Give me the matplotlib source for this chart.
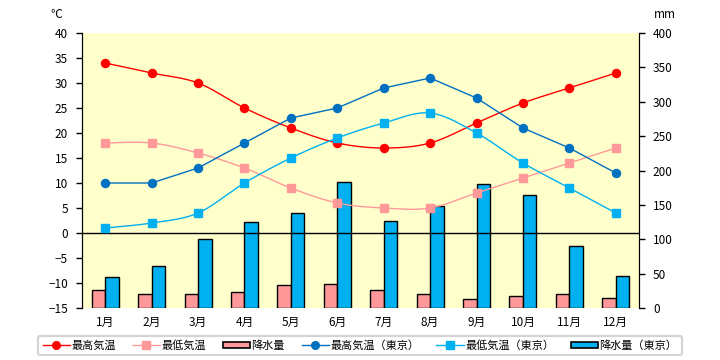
import numpy as np
import matplotlib
matplotlib.use("Agg")
import matplotlib.pyplot as plt
from matplotlib.patches import Patch
from matplotlib.lines import Line2D

plt.rcParams['font.family'] = ['Noto Sans CJK JP', 'DejaVu Sans']

months = ['1月', '2月', '3月', '4月', '5月', '6月', '7月', '8月', '9月', '10月', '11月', '12月']
max_temp = [34, 32, 30, 25, 21, 18, 17, 18, 22, 26, 29, 32]
min_temp = [18, 18, 16, 13, 9, 6, 5, 5, 8, 11, 14, 17]
precip = [26, 21, 20, 23, 33, 35, 26, 20, 13, 18, 20, 15]
max_tokyo = [10, 10, 13, 18, 23, 25, 29, 31, 27, 21, 17, 12]
min_tokyo = [1, 2, 4, 10, 15, 19, 22, 24, 20, 14, 9, 4]
precip_tokyo = [45, 61, 100, 125, 138, 184, 126, 148, 180, 164, 90, 46]
temp_ticks = list(range(-15, 41, 5))
precip_ticks = list(range(0, 401, 50))

RED = '#FF0000'
PINK = '#FF9999'
BLUE = '#0070C0'
CYAN = '#00B0F0'


def smooth(x, y, n=20):
    x = np.asarray(x, float)
    y = np.asarray(y, float)
    P = np.column_stack([x, y])
    out = []
    for i in range(len(P) - 1):
        p0 = P[i - 1] if i > 0 else P[i]
        p1 = P[i]
        p2 = P[i + 1]
        p3 = P[i + 2] if i + 2 < len(P) else P[i + 1]
        c1 = p1 + (p2 - p0) / 6.0
        c2 = p2 - (p3 - p1) / 6.0
        t = np.linspace(0, 1, n)[:, None]
        seg = ((1 - t) ** 3) * p1 + 3 * ((1 - t) ** 2) * t * c1 + 3 * (1 - t) * t ** 2 * c2 + t ** 3 * p2
        out.append(seg if i == 0 else seg[1:])
    s = np.vstack(out)
    return s[:, 0], s[:, 1]


fig = plt.figure(figsize=(7.2, 3.6), dpi=100)
axb = fig.add_axes([82 / 720, 1 - 308 / 360, (639 - 82) / 720, (308 - 33) / 360])
axt = axb.twinx()

x = np.arange(len(months))
w = 0.29
axb.set_facecolor('#FFFFCC')
axb.bar(x - w / 2, precip, width=w, color=PINK, edgecolor='black', linewidth=1.0, zorder=2)
axb.bar(x + w / 2, precip_tokyo, width=w, color=CYAN, edgecolor='black', linewidth=1.0, zorder=2)
axb.set_ylim(0, 400)
axb.set_yticks(precip_ticks)
axb.set_xlim(-0.5, len(months) - 0.5)
axb.yaxis.tick_right()
axb.yaxis.set_label_position('right')

axt.set_ylim(-15, 40)
axt.set_yticks(temp_ticks)
axt.yaxis.tick_left()
axt.axhline(0, color='black', linewidth=1.0, zorder=1)

ms_c = 5.8
ms_s = 5.3
sx, sy = smooth(x, max_temp)
axt.plot(sx, sy, color=RED, linewidth=1.0)
axt.plot(x, max_temp, 'o', color=RED, markersize=ms_c)
sx, sy = smooth(x, min_temp)
axt.plot(sx, sy, color=PINK, linewidth=1.0)
axt.plot(x, min_temp, 's', color=PINK, markersize=ms_s)
axt.plot(x, max_tokyo, '-o', color=BLUE, linewidth=1.0, markersize=ms_c)
sx, sy = smooth(x, min_tokyo)
axt.plot(sx, sy, color=CYAN, linewidth=1.0)
axt.plot(x, min_tokyo, 's', color=CYAN, markersize=ms_s)

for ax in (axb, axt):
    for s in ('top', 'bottom'):
        ax.spines[s].set_visible(False)
    ax.spines['left'].set_color('black')
    ax.spines['right'].set_color('black')
    ax.tick_params(axis='y', labelsize=8.5, length=4, width=1, direction='out', pad=6)

axb.set_xticks(x)
axb.set_xticklabels(months)
axb.tick_params(axis='x', length=0, labelsize=8.5, pad=6)

fig.text(56 / 720, 1 - 15 / 360, '℃', fontsize=8.5, ha='center', va='center')
fig.text(665 / 720, 1 - 15 / 360, 'mm', fontsize=8.5, ha='center', va='center')

handles = [
    Line2D([], [], color=RED, marker='o', markersize=5.5, linewidth=1),
    Line2D([], [], color=PINK, marker='s', markersize=5.5, linewidth=1),
    Patch(facecolor=PINK, edgecolor='black', linewidth=1.2),
    Line2D([], [], color=BLUE, marker='o', markersize=5.5, linewidth=1),
    Line2D([], [], color=CYAN, marker='s', markersize=5.5, linewidth=1),
    Patch(facecolor=CYAN, edgecolor='black', linewidth=1.2),
]
labels = ['最高気温', '最低気温', '降水量', '最高気温（東京）', '最低気温（東京）', '降水量（東京）']
leg = fig.legend(handles, labels, loc='center', bbox_to_anchor=(0.5, 1 - 345.5 / 360), ncol=6,
                 fontsize=8, handlelength=2.5, handleheight=0.45, handletextpad=0.1,
                 columnspacing=1.5, frameon=True, fancybox=True, borderpad=0.4)
leg.get_frame().set_edgecolor('#C8C8C8')
leg.get_frame().set_linewidth(1.5)

fig.savefig('out.png', dpi=100)
